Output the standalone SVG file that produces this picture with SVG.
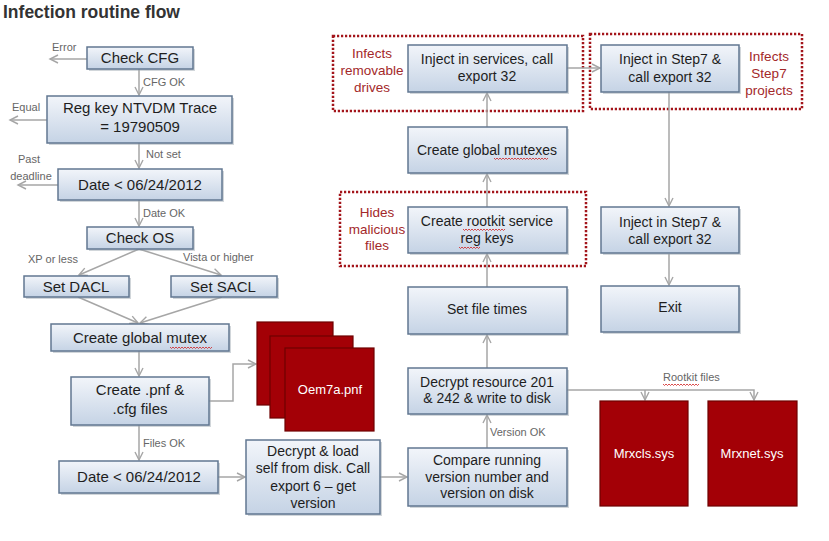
<svg xmlns="http://www.w3.org/2000/svg" width="829" height="541" viewBox="0 0 829 541">
<defs>
<linearGradient id="bg" x1="0" y1="0" x2="0" y2="1">
<stop offset="0" stop-color="#f2f5fa"/>
<stop offset="1" stop-color="#c5d3e5"/>
</linearGradient>
<marker id="ah" markerUnits="userSpaceOnUse" markerWidth="12" markerHeight="12" refX="9" refY="5" orient="auto">
<path d="M1,1 L9,5 L1,9" fill="none" stroke="#a6a6a6" stroke-width="1.4"/>
</marker>
<style>
.box{fill:url(#bg);stroke:#617791;stroke-width:1.5}
.sh{fill:#9aa3ad;opacity:0.45}
.red{fill:#a30006;stroke:#6e0000;stroke-width:1.2}
.dot{fill:none;stroke:#a3151b;stroke-width:2.5;stroke-dasharray:2.2 1.8}
.t{font-family:"Liberation Sans",Arial,sans-serif;font-size:14px;fill:#1e1e1e;text-anchor:middle}
.t15{font-size:15px}
.w{font-family:"Liberation Sans",Arial,sans-serif;font-size:13px;fill:#ffffff;text-anchor:middle}
.lb{font-family:"Liberation Sans",Arial,sans-serif;font-size:11px;fill:#666666}
.dr{font-family:"Liberation Sans",Arial,sans-serif;font-size:13.5px;fill:#a3282a;text-anchor:middle}
.c{fill:none;stroke:#a6a6a6;stroke-width:1.5}
.sq{fill:none;stroke:#d02020;stroke-width:0.8}
</style>
</defs>
<rect width="829" height="541" fill="#ffffff"/>
<text x="3" y="18" font-family="Liberation Sans,Arial,sans-serif" font-size="17.5" font-weight="bold" fill="#333333">Infection routine flow</text>

<g id="dotted-boxes">
<rect class="dot" x="333" y="36" width="250" height="75"/>
<rect class="dot" x="590" y="34" width="212" height="75"/>
<rect class="dot" x="340" y="192" width="246" height="74"/>
<text class="dr" x="372" y="58">Infects</text>
<text class="dr" x="372" y="75">removable</text>
<text class="dr" x="372" y="92">drives</text>
<text class="dr" x="769" y="61">Infects</text>
<text class="dr" x="769" y="78">Step7</text>
<text class="dr" x="769" y="95">projects</text>
<text class="dr" x="377" y="217">Hides</text>
<text class="dr" x="377" y="234">malicious</text>
<text class="dr" x="377" y="250">files</text>
</g>

<g id="connectors">
<line class="c" x1="87" y1="59" x2="50" y2="59" marker-end="url(#ah)"/>
<line class="c" x1="139" y1="69" x2="139" y2="95" marker-end="url(#ah)"/>
<line class="c" x1="47" y1="120" x2="10" y2="120" marker-end="url(#ah)"/>
<line class="c" x1="139" y1="143" x2="139" y2="168" marker-end="url(#ah)"/>
<line class="c" x1="58" y1="185" x2="18" y2="185" marker-end="url(#ah)"/>
<line class="c" x1="139" y1="200" x2="139" y2="226" marker-end="url(#ah)"/>
<line class="c" x1="139" y1="249" x2="79" y2="275" marker-end="url(#ah)"/>
<line class="c" x1="139" y1="249" x2="221" y2="275" marker-end="url(#ah)"/>
<line class="c" x1="78" y1="297" x2="138" y2="323" marker-end="url(#ah)"/>
<line class="c" x1="222" y1="297" x2="140" y2="323" marker-end="url(#ah)"/>
<line class="c" x1="139" y1="351" x2="139" y2="376" marker-end="url(#ah)"/>
<polyline class="c" points="209,401 233,401 233,364 256,364" marker-end="url(#ah)"/>
<line class="c" x1="139" y1="425" x2="139" y2="460" marker-end="url(#ah)"/>
<line class="c" x1="218" y1="477" x2="245" y2="477" marker-end="url(#ah)"/>
<line class="c" x1="380" y1="477" x2="407" y2="477" marker-end="url(#ah)"/>
<line class="c" x1="487" y1="448" x2="487" y2="415" marker-end="url(#ah)"/>
<line class="c" x1="487" y1="368" x2="487" y2="335" marker-end="url(#ah)"/>
<line class="c" x1="487" y1="287" x2="487" y2="254" marker-end="url(#ah)"/>
<line class="c" x1="487" y1="207" x2="487" y2="174" marker-end="url(#ah)"/>
<line class="c" x1="487" y1="127" x2="487" y2="93" marker-end="url(#ah)"/>
<line class="c" x1="567" y1="68" x2="600" y2="68" marker-end="url(#ah)"/>
<line class="c" x1="669" y1="92" x2="669" y2="206" marker-end="url(#ah)"/>
<line class="c" x1="669" y1="254" x2="669" y2="285" marker-end="url(#ah)"/>
<polyline class="c" points="567,390 754,390 754,400" marker-end="url(#ah)"/>
<line class="c" x1="645" y1="390" x2="645" y2="400" marker-end="url(#ah)"/>
<text class="lb" x="52" y="51">Error</text>
<text class="lb" x="143" y="86">CFG OK</text>
<text class="lb" x="12" y="111">Equal</text>
<text class="lb" x="146" y="158">Not set</text>
<text class="lb" x="29" y="163" text-anchor="middle">Past</text>
<text class="lb" x="31" y="180" text-anchor="middle">deadline</text>
<text class="lb" x="143" y="217">Date OK</text>
<text class="lb" x="28" y="263">XP or less</text>
<text class="lb" x="183" y="261">Vista or higher</text>
<text class="lb" x="143" y="447">Files OK</text>
<text class="lb" x="490" y="436">Version OK</text>
<text class="lb" x="663" y="381">Rootkit files</text>
<path class="sq" d="M663,384 l1.5,1.5 l1.5,-1.5 l1.5,1.5 l1.5,-1.5 l1.5,1.5 l1.5,-1.5 l1.5,1.5 l1.5,-1.5 l1.5,1.5 l1.5,-1.5 l1.5,1.5 l1.5,-1.5 l1.5,1.5 l1.5,-1.5 l1.5,1.5 l1.5,-1.5 l1.5,1.5 l1.5,-1.5 l1.5,1.5 l1.5,-1.5 l1.5,1.5 l1.5,-1.5 l1.5,1.5 l1.5,-1.5"/>
</g>

<g id="check-cfg">
<rect class="sh" x="89" y="49" width="106" height="22"/>
<rect class="box" x="87" y="47" width="106" height="22"/>
<text class="t t15" x="140" y="63">Check CFG</text>
</g>
<g id="reg-key">
<rect class="sh" x="49" y="98" width="185" height="47"/>
<rect class="box" x="47" y="96" width="185" height="47"/>
<text class="t t15" x="140" y="113">Reg key NTVDM Trace</text>
<text class="t t15" x="140" y="132">= 19790509</text>
</g>
<g id="date1">
<rect class="sh" x="60" y="171" width="164" height="31"/>
<rect class="box" x="58" y="169" width="164" height="31"/>
<text class="t t15" x="140" y="190">Date &lt; 06/24/2012</text>
</g>
<g id="check-os">
<rect class="sh" x="89" y="229" width="106" height="22"/>
<rect class="box" x="87" y="227" width="106" height="22"/>
<text class="t t15" x="140" y="243">Check OS</text>
</g>
<g id="set-dacl">
<rect class="sh" x="26" y="278" width="105" height="21"/>
<rect class="box" x="24" y="276" width="105" height="21"/>
<text class="t t15" x="76" y="292">Set DACL</text>
</g>
<g id="set-sacl">
<rect class="sh" x="173" y="278" width="106" height="21"/>
<rect class="box" x="171" y="276" width="106" height="21"/>
<text class="t t15" x="223" y="292">Set SACL</text>
</g>
<g id="create-global-mutex">
<rect class="sh" x="53" y="326" width="178" height="27"/>
<rect class="box" x="51" y="324" width="178" height="27"/>
<text class="t t15" x="140" y="343">Create global mutex</text>
<path class="sq" d="M170,347 l1.5,1.5 l1.5,-1.5 l1.5,1.5 l1.5,-1.5 l1.5,1.5 l1.5,-1.5 l1.5,1.5 l1.5,-1.5 l1.5,1.5 l1.5,-1.5 l1.5,1.5 l1.5,-1.5 l1.5,1.5 l1.5,-1.5 l1.5,1.5 l1.5,-1.5 l1.5,1.5 l1.5,-1.5 l1.5,1.5 l1.5,-1.5 l1.5,1.5 l1.5,-1.5 l1.5,1.5 l1.5,-1.5 l1.5,1.5 l1.5,-1.5 l1.5,1.5 l1.5,-1.5"/>
</g>
<g id="create-pnf">
<rect class="sh" x="73" y="379" width="138" height="48"/>
<rect class="box" x="71" y="377" width="138" height="48"/>
<text class="t t15" x="140" y="395">Create .pnf &amp;</text>
<text class="t t15" x="140" y="414">.cfg files</text>
</g>
<g id="oem7a">
<rect class="red" x="257" y="322" width="76" height="83"/>
<rect class="red" x="270" y="336" width="83" height="82"/>
<rect class="red" x="285" y="348" width="89" height="83"/>
<text class="w" x="330" y="394" font-size="12">Oem7a.pnf</text>
</g>
<g id="date2">
<rect class="sh" x="61" y="463" width="159" height="32"/>
<rect class="box" x="59" y="461" width="159" height="32"/>
<text class="t t15" x="139" y="482">Date &lt; 06/24/2012</text>
</g>
<g id="decrypt-load">
<rect class="sh" x="248" y="442" width="134" height="74"/>
<rect class="box" x="246" y="440" width="134" height="74"/>
<text class="t" x="313" y="456">Decrypt &amp; load</text>
<text class="t" x="313" y="473">self from disk. Call</text>
<text class="t" x="313" y="491">export 6 – get</text>
<text class="t" x="313" y="508">version</text>
</g>
<g id="compare">
<rect class="sh" x="410" y="450" width="159" height="58"/>
<rect class="box" x="408" y="448" width="159" height="58"/>
<text class="t" x="487" y="465">Compare running</text>
<text class="t" x="487" y="482">version number and</text>
<text class="t" x="487" y="498">version on disk</text>
</g>
<g id="decrypt-resource">
<rect class="sh" x="410" y="370" width="159" height="46"/>
<rect class="box" x="408" y="368" width="159" height="46"/>
<text class="t" x="487" y="387">Decrypt resource 201</text>
<text class="t" x="487" y="403">&amp; 242 &amp; write to disk</text>
</g>
<g id="set-file-times">
<rect class="sh" x="410" y="289" width="159" height="47"/>
<rect class="box" x="408" y="287" width="159" height="47"/>
<text class="t" x="487" y="314">Set file times</text>
</g>
<g id="create-rootkit">
<rect class="sh" x="410" y="209" width="159" height="46"/>
<rect class="box" x="408" y="207" width="159" height="46"/>
<text class="t" x="487" y="226">Create rootkit service</text>
<text class="t" x="487" y="243">reg keys</text>
<path class="sq" d="M463,229 l1.5,1.5 l1.5,-1.5 l1.5,1.5 l1.5,-1.5 l1.5,1.5 l1.5,-1.5 l1.5,1.5 l1.5,-1.5 l1.5,1.5 l1.5,-1.5 l1.5,1.5 l1.5,-1.5 l1.5,1.5 l1.5,-1.5 l1.5,1.5 l1.5,-1.5 l1.5,1.5 l1.5,-1.5 l1.5,1.5 l1.5,-1.5 l1.5,1.5 l1.5,-1.5 l1.5,1.5 l1.5,-1.5 l1.5,1.5 l1.5,-1.5 l1.5,1.5 l1.5,-1.5"/>
<path class="sq" d="M459,247 l1.5,1.5 l1.5,-1.5 l1.5,1.5 l1.5,-1.5 l1.5,1.5 l1.5,-1.5 l1.5,1.5 l1.5,-1.5 l1.5,1.5 l1.5,-1.5 l1.5,1.5 l1.5,-1.5 l1.5,1.5 l1.5,-1.5"/>
</g>
<g id="create-global-mutexes">
<rect class="sh" x="410" y="129" width="159" height="46"/>
<rect class="box" x="408" y="127" width="159" height="46"/>
<text class="t" x="487" y="155">Create global mutexes</text>
<path class="sq" d="M494,158 l1.5,1.5 l1.5,-1.5 l1.5,1.5 l1.5,-1.5 l1.5,1.5 l1.5,-1.5 l1.5,1.5 l1.5,-1.5 l1.5,1.5 l1.5,-1.5 l1.5,1.5 l1.5,-1.5 l1.5,1.5 l1.5,-1.5 l1.5,1.5 l1.5,-1.5 l1.5,1.5 l1.5,-1.5 l1.5,1.5 l1.5,-1.5 l1.5,1.5 l1.5,-1.5 l1.5,1.5 l1.5,-1.5 l1.5,1.5 l1.5,-1.5 l1.5,1.5 l1.5,-1.5 l1.5,1.5 l1.5,-1.5 l1.5,1.5 l1.5,-1.5 l1.5,1.5 l1.5,-1.5 l1.5,1.5 l1.5,-1.5"/>
</g>
<g id="inject-services">
<rect class="sh" x="410" y="47" width="159" height="47"/>
<rect class="box" x="408" y="45" width="159" height="47"/>
<text class="t" x="487" y="64">Inject in services, call</text>
<text class="t" x="487" y="81">export 32</text>
</g>
<g id="inject-step7-a">
<rect class="sh" x="603" y="47" width="138" height="47"/>
<rect class="box" x="601" y="45" width="138" height="47"/>
<text class="t" x="670" y="64">Inject in Step7 &amp;</text>
<text class="t" x="670" y="82">call export 32</text>
</g>
<g id="inject-step7-b">
<rect class="sh" x="603" y="209" width="138" height="46"/>
<rect class="box" x="601" y="207" width="138" height="46"/>
<text class="t" x="670" y="227">Inject in Step7 &amp;</text>
<text class="t" x="670" y="244">call export 32</text>
</g>
<g id="exit">
<rect class="sh" x="603" y="288" width="138" height="46"/>
<rect class="box" x="601" y="286" width="138" height="46"/>
<text class="t" x="670" y="312">Exit</text>
</g>
<g id="mrxcls">
<rect class="red" x="600" y="401" width="88" height="105"/>
<text class="w" x="644" y="458">Mrxcls.sys</text>
</g>
<g id="mrxnet">
<rect class="red" x="708" y="401" width="89" height="105"/>
<text class="w" x="752" y="458">Mrxnet.sys</text>
</g>
</svg>
